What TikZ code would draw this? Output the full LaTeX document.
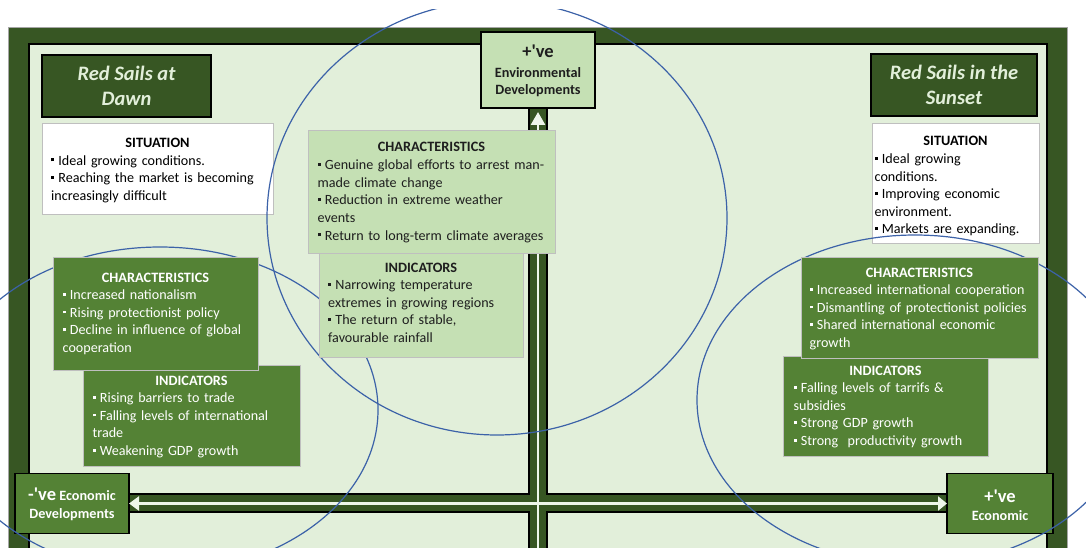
\documentclass[tikz,border=0pt]{standalone}
\usepackage{fontspec}
\setmainfont{Carlito}
\usetikzlibrary{arrows.meta}
\definecolor{dkgreen}{HTML}{375623}
\definecolor{mdgreen}{HTML}{548235}
\definecolor{ltgreen}{HTML}{C5E0B4}
\definecolor{bggreen}{HTML}{E2EFDA}
\definecolor{ellblue}{HTML}{3C62A8}
\definecolor{boxgray}{HTML}{BFBFBF}
\definecolor{framegray}{HTML}{A6A6A6}
\definecolor{stripecol}{HTML}{EEF6EA}
\definecolor{textdark}{HTML}{1E1E1E}
\newcommand{\bl}{\raisebox{3.8pt}{\rule{2.8pt}{2.8pt}}\hspace{4.4pt}}
\begin{document}
\begin{tikzpicture}[x=1pt,y=-1pt,
  quad/.style={draw=black, fill=bggreen, line width=1.8pt},
  panel/.style={draw=boxgray, line width=0.9pt, anchor=north west, inner sep=0pt, outer sep=0pt},
  strongbox/.style={draw=black, line width=1.8pt, anchor=north west, inner sep=0pt, outer sep=0pt},
  heading/.style={anchor=base, inner sep=0pt, font=\bfseries\fontsize{14.3}{17.6}\selectfont},
  body/.style={anchor=base west, inner sep=0pt, text width=300pt, align=left, font=\fontsize{14.1}{17.6}\selectfont},
  titletext/.style={inner sep=0pt, align=center, text=bggreen, font=\bfseries\itshape\fontsize{20.5}{25}\selectfont},
  axlab/.style={anchor=base, inner sep=0pt, font=\bfseries\fontsize{14.2}{17}\selectfont},
  axbig/.style={anchor=base, inner sep=0pt, font=\bfseries\fontsize{18.5}{20}\selectfont},
  stripe/.style={draw=stripecol, line width=2.6pt},
  ell/.style={draw=ellblue, line width=1.2pt}
]
\useasboundingbox (0,0) rectangle (1086,548);
\fill[white] (0,0) rectangle (1086,548);
% outer frame
\draw[draw=framegray, fill=dkgreen, line width=0.8pt] (8,27) rectangle (1067,580);
% quadrants
\draw[quad] (29,44) rectangle (529,494);
\draw[quad] (547,44) rectangle (1047,494);
\draw[quad] (29,512) rectangle (529,580);
\draw[quad] (547,512) rectangle (1047,580);

% axis end boxes
\node[strongbox, fill=ltgreen, minimum width=114pt, minimum height=76pt] (envbox) at (481,32) {};
\node[axbig, text=textdark] (envA) at (538,58) {+\textquotesingle ve};
\node[axlab, text=textdark] (envB) at (538,78) {Environmental};
\node[axlab, text=textdark] (envC) at (538,95) {Developments};

\node[strongbox, fill=mdgreen, minimum width=114pt, minimum height=60pt] (negecon) at (15,473.5) {};
\node[axlab, text=white] (negA) at (72,500) {{\fontsize{18.5}{20}\selectfont -\textquotesingle ve} Economic};
\node[axlab, text=white] (negB) at (72,518) {Developments};

\node[strongbox, fill=mdgreen, minimum width=106pt, minimum height=60pt] (posecon) at (947,473.5) {};
\node[axbig, text=white] (posA) at (1000,502) {+\textquotesingle ve};
\node[axlab, text=white] (posB) at (1000,520) {Economic};

% axis arrows
\coordinate (vbot) at (538,560);
\draw[stripe, -{Triangle[width=14pt,length=13pt]}, shorten >=4pt] (vbot) -- (envbox.south);
\draw[stripe, {Triangle[width=14pt,length=10pt]}-{Triangle[width=14pt,length=9pt]}] (negecon.east) -- (posecon.west);

% titles
\node[strongbox, fill=dkgreen, minimum width=169pt, minimum height=62pt] (tl) at (42,55) {};
\node[titletext] (tlt) at (tl.center) {Red Sails at\\Dawn};
\node[strongbox, fill=dkgreen, minimum width=166pt, minimum height=62pt] (tr) at (871,54) {};
\node[titletext] (trt) at (tr.center) {Red Sails in the\\Sunset};

% situation boxes
\node[panel, fill=white, minimum width=231pt, minimum height=91pt] (sitL) at (42,123) {};
\node[heading] (sitLh) at (157.5,147.5) {SITUATION};
\node[body] (sitLb) at (51,165.1) {\bl Ideal growing conditions.\\
\bl Reaching the market is becoming\\
increasingly difficult};

\node[panel, fill=white, minimum width=167pt, minimum height=120pt] (sitR) at (872,123) {};
\node[heading] (sitRh) at (955.5,146) {SITUATION};
\node[body] (sitRb) at (874.5,163.6) {\bl Ideal growing\\
conditions.\\
\bl Improving economic\\
environment.\\
\bl Markets are expanding.};

% ellipses
\begin{scope}
\clip (0,10) rectangle (1086,548);
\draw[ell] (497,218) ellipse [x radius=230pt, y radius=217pt];
\draw[ell] (160,410) ellipse [x radius=218pt, y radius=163pt];
\draw[ell] (915,400) ellipse [x radius=218pt, y radius=165pt];
\end{scope}

% centre (environmental) boxes
\node[panel, fill=ltgreen, minimum width=204pt, minimum height=104pt] (cInd) at (319,253) {};
\node[heading, text=textdark] (cIndh) at (421,272) {INDICATORS};
\node[body, text=textdark] (cIndb) at (328,289.6) {\bl Narrowing temperature\\
extremes in growing regions\\
\bl The return of stable,\\
favourable rainfall};

\node[panel, fill=ltgreen, minimum width=247pt, minimum height=123pt] (cChar) at (308,130) {};
\node[heading, text=textdark] (cCharh) at (431.5,152) {CHARACTERISTICS};
\node[body, text=textdark] (cCharb) at (317.5,169.7) {\bl Genuine global efforts to arrest man-\\
made climate change\\
\bl Reduction in extreme weather\\
events\\
\bl Return to long-term climate averages};

% left (negative economic) boxes
\node[panel, fill=mdgreen, minimum width=217pt, minimum height=101pt] (lInd) at (83,365) {};
\node[heading, text=white] (lIndh) at (191.5,385) {INDICATORS};
\node[body, text=white] (lIndb) at (92.5,402.6) {\bl Rising barriers to trade\\
\bl Falling levels of international\\
trade\\
\bl Weakening GDP growth};

\node[panel, fill=mdgreen, minimum width=205pt, minimum height=113pt] (lChar) at (53,257) {};
\node[heading, text=white] (lCharh) at (155.5,282) {CHARACTERISTICS};
\node[body, text=white] (lCharb) at (62.5,299.6) {\bl Increased nationalism\\
\bl Rising protectionist policy\\
\bl Decline in influence of global\\
cooperation};

% right (positive economic) boxes
\node[panel, fill=mdgreen, minimum width=205pt, minimum height=100pt] (rInd) at (783,356) {};
\node[heading, text=white] (rIndh) at (885.5,375) {INDICATORS};
\node[body, text=white] (rIndb) at (793.5,392.6) {\bl Falling levels of tarrifs \&\\
subsidies\\
\bl Strong GDP growth\\
\bl Strong\ \ productivity growth};

\node[panel, fill=mdgreen, minimum width=237pt, minimum height=101pt] (rChar) at (801,257) {};
\node[heading, text=white] (rCharh) at (919.5,277) {CHARACTERISTICS};
\node[body, text=white] (rCharb) at (809.5,294.6) {\bl Increased international cooperation\\
\bl Dismantling of protectionist policies\\
\bl Shared international economic\\
growth};
\end{tikzpicture}
\end{document}
